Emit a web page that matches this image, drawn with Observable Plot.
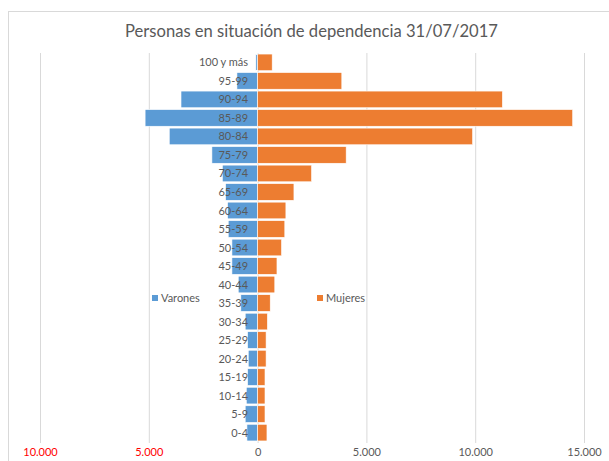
<!DOCTYPE html>
<html>
<head>
<meta charset="utf-8">
<script src="https://cdn.jsdelivr.net/npm/d3@7"></script>
<script src="https://cdn.jsdelivr.net/npm/@observablehq/plot@0.6"></script>
<style>
  html, body { margin: 0; padding: 0; background: #fff; }
  #wrap { position: relative; width: 609px; height: 461px; font-family: Lato, "Open Sans", sans-serif; overflow: hidden; }
  #border { position: absolute; left: 8px; top: 11px; width: 700px; height: 600px; border-left: 1px solid #d9d9d9; border-top: 1px solid #d9d9d9; }
  #title { position: absolute; left: 0; top: 23px; width: 609px; padding-left: 14px; box-sizing: border-box; text-align: center; font-size: 16.6px; line-height: 17px; color: #595959; }
  #chart { position: absolute; left: 0; top: 45px; }
  .lg { position: absolute; font-size: 11px; line-height: 12px; color: #595959; }
  .sw { position: absolute; width: 6px; height: 6px; }
</style>
</head>
<body>
<div id="wrap">
  <div id="border"></div>
  <div id="title">Personas en situación de dependencia 31/07/2017</div>
  <div id="chart"></div>
  <div class="sw" style="left:152px;top:295px;background:#5B9BD5"></div>
  <div class="lg" style="left:161px;top:292px">Varones</div>
  <div class="sw" style="left:317px;top:295px;background:#ED7D31"></div>
  <div class="lg" style="left:326px;top:292px">Mujeres</div>
</div>
<script>
const ages = ["0-4","5-9","10-14","15-19","20-24","25-29","30-34","35-39","40-44","45-49","50-54","55-59","60-64","65-69","70-74","75-79","80-84","85-89","90-94","95-99","100 y más"];
const varones = [490, 570, 520, 460, 430, 460, 570, 770, 890, 1180, 1180, 1350, 1380, 1470, 1620, 2100, 4060, 5170, 3520, 950, 80];
const mujeres = [430, 340, 340, 340, 390, 390, 450, 580, 790, 890, 1100, 1250, 1300, 1670, 2480, 4070, 9880, 14480, 11250, 3870, 670];
const xTicks = [-10000, -5000, 0, 5000, 10000, 15000];

const fmt = d => Math.abs(d) === 0 ? "0" : d3.format(",")(Math.abs(d)).replace(/,/g, ".");

const dv = ages.map((a, i) => ({age: a, v: -varones[i]}));
const dm = ages.map((a, i) => ({age: a, v: mujeres[i]}));

const chart = Plot.plot({
  width: 609,
  height: 416,
  marginLeft: 40,
  marginRight: 25,
  marginTop: 8,
  marginBottom: 18,
  style: {fontFamily: "Lato, 'Open Sans', sans-serif", background: "transparent"},
  x: {domain: [-10000, 15000], axis: null},
  y: {domain: ages.slice().reverse(), range: [7.2, 397.8], padding: 0.1, round: false, axis: null},
  marks: [
    Plot.ruleX(xTicks, {stroke: "#d9d9d9", strokeWidth: 1}),
    Plot.barX(dv, {y: "age", x: "v", fill: "#5B9BD5", stroke: "white", strokeWidth: 0.6}),
    Plot.barX(dm, {y: "age", x: "v", fill: "#ED7D31", stroke: "white", strokeWidth: 0.6}),
    Plot.text(ages, {y: d => d, x: 0, dx: -10, textAnchor: "end", fill: "#595959", fontSize: 11}),
    Plot.text(xTicks.filter(d => d < 0), {x: d => d, frameAnchor: "bottom", dy: 12, text: fmt, fill: "#ff0000", fontSize: 11}),
    Plot.text(xTicks.filter(d => d >= 0), {x: d => d, frameAnchor: "bottom", dy: 12, text: fmt, fill: "#595959", fontSize: 11})
  ]
});
document.getElementById("chart").appendChild(chart);
</script>
</body>
</html>
